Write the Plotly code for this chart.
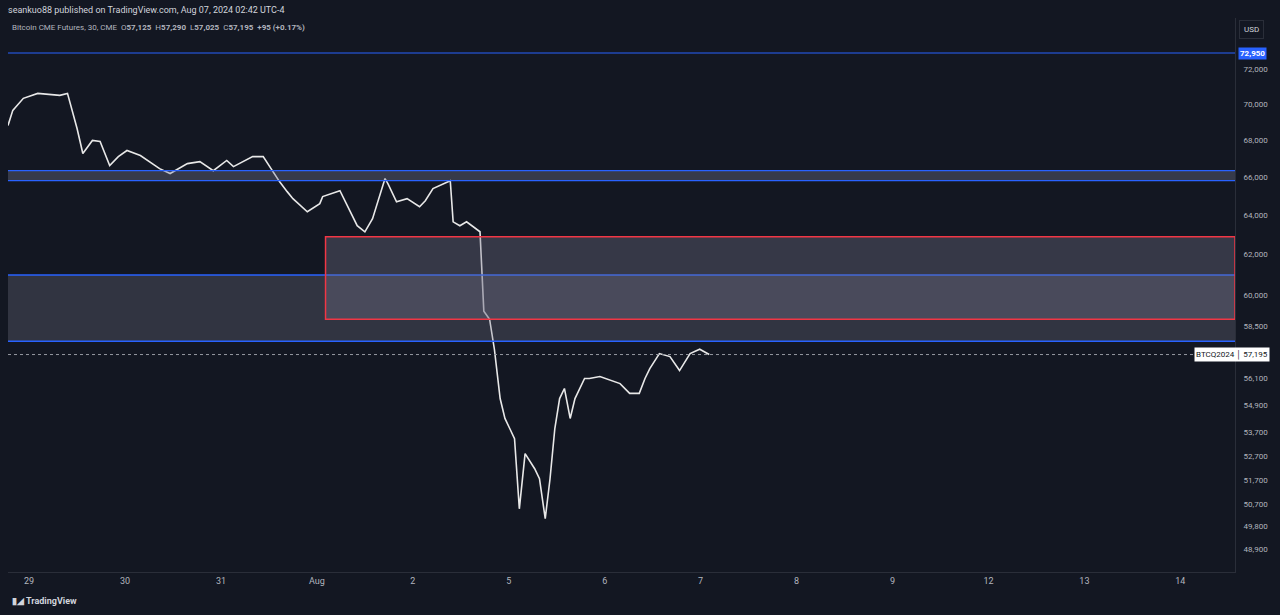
import plotly.graph_objects as go
import math

# price path (x = trading-day index, 0 = Jul 29)
day_idx = [-0.22, -0.17, -0.06, 0.09, 0.32, 0.40, 0.50, 0.56, 0.66, 0.74, 0.84, 0.93,
           1.02, 1.16, 1.36, 1.47, 1.65, 1.78, 1.92, 2.06, 2.13, 2.33, 2.44, 2.61,
           2.69, 2.75, 2.90, 3.03, 3.06, 3.24, 3.42, 3.50, 3.58, 3.71, 3.74, 3.83,
           3.94, 4.07, 4.13, 4.21, 4.39, 4.42, 4.49, 4.56, 4.70,
           4.74, 4.80, 4.85, 4.91, 4.96, 5.01, 5.06, 5.11, 5.17, 5.27, 5.32, 5.38,
           5.43, 5.48, 5.53, 5.58, 5.64, 5.69, 5.74, 5.79, 5.84, 5.95, 6.16, 6.26,
           6.36, 6.42, 6.47, 6.57, 6.68, 6.78, 6.89, 6.99, 7.09]
close = [68810, 69650, 70330, 70610, 70500, 70610, 68640, 67270, 67980, 67920, 66620, 67100,
         67430, 67160, 66450, 66190, 66720, 66830, 66340, 66890, 66560, 67100, 67100, 65760,
         65230, 64860, 64180, 64600, 64970, 65280, 63460, 63150, 63820, 65920, 65650, 64700,
         64860, 64440, 64750, 65390, 65810, 63660, 63460, 63660, 63150,
         59230, 58850, 57440, 55200, 54320, 53880, 53440, 50500, 52800, 52160, 51740, 50100,
         51740, 53880, 55200, 55650, 54320, 55200, 55650, 56100, 56100, 56190, 55870, 55430,
         55430, 56100, 56550, 57240, 57100, 56460, 57240, 57440, 57195]

tick_days = ["29", "30", "31", "Aug", "2", "5", "6", "7", "8", "9", "12", "13", "14"]
price_ticks = [72000, 70000, 68000, 66000, 64000, 62000, 60000, 58500, 56100,
               54900, 53700, 52700, 51700, 50700, 49800, 48900]

level_top = 72950
blue_zone = (65810, 66340)
grey_zone = (57810, 60980)
red_zone = (58850, 62900)
red_start = 3.09
last_price = 57195

bg = "#131722"
txt = "#b2b5be"

fig = go.Figure()
fig.add_trace(go.Scatter(x=day_idx, y=close, mode="lines",
                         line=dict(color="#e8e8e8", width=1.6), hoverinfo="skip"))

x0, x1 = -0.22, 12.57
shapes = [
    dict(type="line", x0=x0, x1=x1, y0=level_top, y1=level_top, line=dict(color="#2962ff", width=1)),
    dict(type="rect", x0=x0, x1=x1, y0=blue_zone[0], y1=blue_zone[1],
         fillcolor="rgba(120,123,150,0.35)", line=dict(width=0)),
    dict(type="line", x0=x0, x1=x1, y0=blue_zone[0], y1=blue_zone[0], line=dict(color="#2962ff", width=1.2)),
    dict(type="line", x0=x0, x1=x1, y0=blue_zone[1], y1=blue_zone[1], line=dict(color="#2962ff", width=1.2)),
    dict(type="rect", x0=x0, x1=x1, y0=grey_zone[0], y1=grey_zone[1],
         fillcolor="rgba(120,118,140,0.3)", line=dict(width=0)),
    dict(type="line", x0=x0, x1=x1, y0=grey_zone[0], y1=grey_zone[0], line=dict(color="#2962ff", width=1.5)),
    dict(type="line", x0=x0, x1=x1, y0=grey_zone[1], y1=grey_zone[1], line=dict(color="#2962ff", width=1.5)),
    dict(type="rect", x0=red_start, x1=x1, y0=red_zone[0], y1=red_zone[1],
         fillcolor="rgba(120,118,140,0.35)", line=dict(color="#f23645", width=1.5)),
    dict(type="line", x0=x0, x1=x1, y0=last_price, y1=last_price,
         line=dict(color="#9598a1", width=1, dash="dot")),
]

annotations = [
    dict(text="seankuo88 published on TradingView.com, Aug 07, 2024 02:42 UTC-4", x=0.0, y=1.0,
         xref="paper", yref="paper", xanchor="left", yanchor="bottom", showarrow=False,
         font=dict(size=9, color="#d1d4dc"), xshift=-2, yshift=1),
    dict(text="Bitcoin CME Futures, 30, CME  O<b>57,125</b>  H<b>57,290</b>  L<b>57,025</b>  C<b>57,195</b>  <b>+95 (+0.17%)</b>",
         x=0.0, y=1.0, xref="paper", yref="paper", xanchor="left", yanchor="top", showarrow=False,
         font=dict(size=8, color="#b2b5be"), yshift=-3, xshift=2),
    dict(text="<b>72,950</b>", x=1.0, y=math.log10(level_top), xref="paper", yref="y", xanchor="left",
         showarrow=False, bgcolor="#2962ff", font=dict(size=8, color="white"), xshift=3),
    dict(text="BTCQ2024 │ 57,195", x=1.0, y=math.log10(last_price), xref="paper", yref="y", xanchor="right",
         showarrow=False, bgcolor="white", font=dict(size=8, color="#131722"), xshift=35),
    dict(text="USD", x=1.0, y=1.0, xref="paper", yref="paper", xanchor="left", yanchor="top",
         showarrow=False, bordercolor="#2a2e39", borderwidth=1, borderpad=4,
         font=dict(size=8, color="#d1d4dc"), xshift=4, yshift=-2),
    dict(text="<b>▮◢ TradingView</b>", x=0.0, y=0.0, xref="paper", yref="paper", xanchor="left",
         yanchor="top", showarrow=False, font=dict(size=9, color="#d1d4dc"), yshift=-22, xshift=2),
]

fig.update_layout(
    width=1280, height=615, paper_bgcolor=bg, plot_bgcolor=bg,
    margin=dict(l=8, r=45, t=18, b=43), showlegend=False,
    shapes=shapes, annotations=annotations,
    font=dict(family="Roboto, Noto Sans, sans-serif", color=txt, size=9),
)
fig.update_xaxes(range=[x0, x1], tickvals=list(range(len(tick_days))), ticktext=tick_days,
                 showgrid=False, zeroline=False, tickfont=dict(size=9, color=txt),
                 showline=True, linecolor="#2a2e39")
fig.update_yaxes(type="log", range=[math.log10(47990), math.log10(75040)], side="right",
                 tickvals=price_ticks, ticktext=[f"{v:,}" for v in price_ticks],
                 showgrid=False, zeroline=False, tickfont=dict(size=8, color=txt),
                 showline=True, linecolor="#2a2e39", ticks="", ticklabelstandoff=6)

fig.write_html("out.html", config={"displayModeBar": False},
               post_script="document.body.style.margin='0';document.body.style.background='#131722';")
